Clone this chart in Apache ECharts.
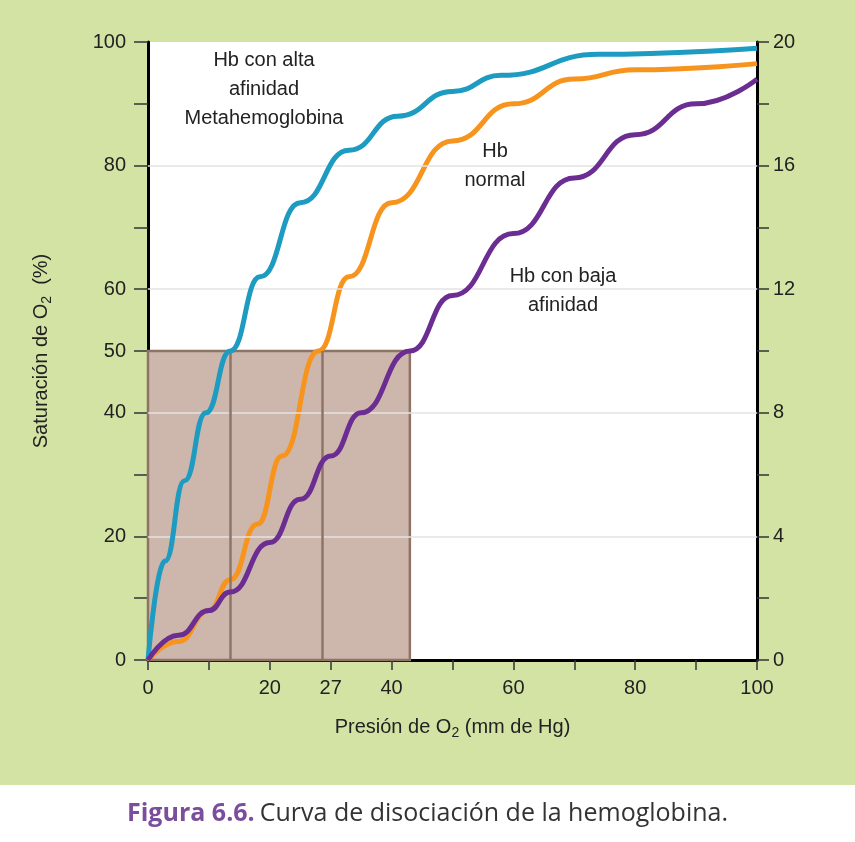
<!DOCTYPE html>
<html>
<head>
<meta charset="utf-8">
<script src="https://cdn.jsdelivr.net/npm/echarts@6/dist/echarts.min.js"></script>
<style>html,body{margin:0;padding:0;background:#fff}#c{width:855px;height:842px}</style>
</head>
<body>
<div id="c"></div>
<script>
// Presion O2 (mm Hg) vs saturacion (%)
var altaAfinidad = [[0,0],[2.8,16],[6,29],[9.5,40],[13.5,50],[18.4,62],[25,74],[33,82.5],[41,88],[50,92],[58,94.6],[74,98],[100,99]];
var normal = [[0,0],[5,3],[10,8],[13.5,13],[18,22],[22,33],[28,50],[33,62],[40,74],[50,84],[60,90],[70,94],[80,95.5],[100,96.5]];
var bajaAfinidad = [[0,0],[5,4],[10,8],[13.5,11],[20,19],[25,26],[30,33],[35,40],[43,50],[50,59],[60,69],[70,78],[80,85],[90,90],[100,94]];
var xLabels = {0:'0',20:'20',30:'27',40:'40',60:'60',80:'80',100:'100'};
var yLabels = [0,20,40,50,60,80,100];
var gridValues = [20,40,60,80];
var p50 = [13.5,28.6,43];

var chart = echarts.init(document.getElementById('c'));
var font = '"Liberation Sans", Arial, sans-serif';
function note(txt, x, y) {
  return {type:'text', x:x, y:y, style:{text:txt, fill:'#222', fontFamily:font, fontSize:20, textAlign:'center', lineHeight:29}};
}
chart.setOption({
  backgroundColor: '#ffffff',
  animation: false,
  graphic: [
    {type:'rect', z:-10, shape:{x:0,y:0,width:855,height:785}, style:{fill:'#d3e3a4'}},
    note('Hb con alta\nafinidad\nMetahemoglobina', 264, 46),
    note('Hb\nnormal', 495, 137),
    note('Hb con baja\nafinidad', 563, 262)
  ],
  title: {
    text: '{a|Figura 6.6.} {b|Curva de disociación de la hemoglobina.}',
    left: 'center', top: 796,
    textStyle: {rich: {
      a: {fontFamily:'"Open Sans", sans-serif', fontSize:25, fontWeight:'bold', color:'#7b4e9c'},
      b: {fontFamily:'"Open Sans", sans-serif', fontSize:25, fontWeight:'normal', color:'#333'}
    }}
  },
  grid: {left:148, right:98, top:42, bottom:182, show:true, backgroundColor:'#ffffff', borderWidth:0},
  xAxis: {
    type:'value', min:0, max:100, interval:10,
    name:'Presión de O{s|2} (mm de Hg)', nameLocation:'middle', nameGap:54,
    nameTextStyle:{fontFamily:font, fontSize:20, color:'#222', rich:{s:{fontSize:14, verticalAlign:'bottom', padding:[12,0,0,0], fontFamily:font, color:'#222'}}},
    axisLine:{onZero:false, lineStyle:{color:'#000', width:3}},
    axisTick:{length:10, lineStyle:{color:'#333', width:1.5}},
    axisLabel:{margin:18, fontFamily:font, fontSize:20, color:'#222', formatter:function(v){return xLabels[v] !== undefined ? xLabels[v] : '';}},
    splitLine:{show:false}
  },
  yAxis: [{
    type:'value', min:0, max:100, interval:10,
    name:'Saturación de O{s|2}  (%)', nameLocation:'middle', nameGap:94, nameRotate:90,
    nameTextStyle:{fontFamily:font, fontSize:20, color:'#222', rich:{s:{fontSize:14, verticalAlign:'bottom', padding:[12,0,0,0], fontFamily:font, color:'#222'}}},
    axisLine:{show:true, lineStyle:{color:'#000', width:3}},
    axisTick:{show:true, length:14, lineStyle:{color:'#333', width:1.5}},
    axisLabel:{margin:22, fontFamily:font, fontSize:20, color:'#222', formatter:function(v){return yLabels.indexOf(v) >= 0 ? String(v) : '';}},
    splitLine:{show:false}
  },{
    type:'value', min:0, max:20, interval:2, position:'right',
    axisLine:{show:true, lineStyle:{color:'#000', width:3}},
    axisTick:{show:true, length:12, lineStyle:{color:'#333', width:1.5}},
    axisLabel:{margin:16, fontFamily:font, fontSize:20, color:'#222', formatter:function(v){return v % 4 === 0 ? String(v) : '';}},
    splitLine:{show:false}
  }],
  series: [
    {
      type:'line', data:[], z:1, silent:true,
      markArea:{silent:true, itemStyle:{color:'#cdb7ac', borderColor:'#8d7466', borderWidth:2.5}, data:[[{coord:[0,0]},{coord:[43,50]}]]},
      markLine:{silent:true, symbol:'none', label:{show:false},
        data: gridValues.map(function(v){return {yAxis:v, lineStyle:{color:'#e3e3e3', width:1.5, type:'solid'}};})
          .concat(p50.slice(0,2).map(function(v){return [{coord:[v,0]},{coord:[v,50]}];})),
        lineStyle:{color:'#8d7466', width:2.5, type:'solid'}}
    },
    {name:'alta', type:'line', data:altaAfinidad, smooth:0.5, smoothMonotone:'x', showSymbol:false, z:5, lineStyle:{color:'#1d9bc1', width:5}},
    {name:'normal', type:'line', data:normal, smooth:0.5, smoothMonotone:'x', showSymbol:false, z:4, lineStyle:{color:'#f7941e', width:5}},
    {name:'baja', type:'line', data:bajaAfinidad, smooth:0.5, smoothMonotone:'x', showSymbol:false, z:6, lineStyle:{color:'#6b2d92', width:5}}
  ]
});
</script>
</body>
</html>
